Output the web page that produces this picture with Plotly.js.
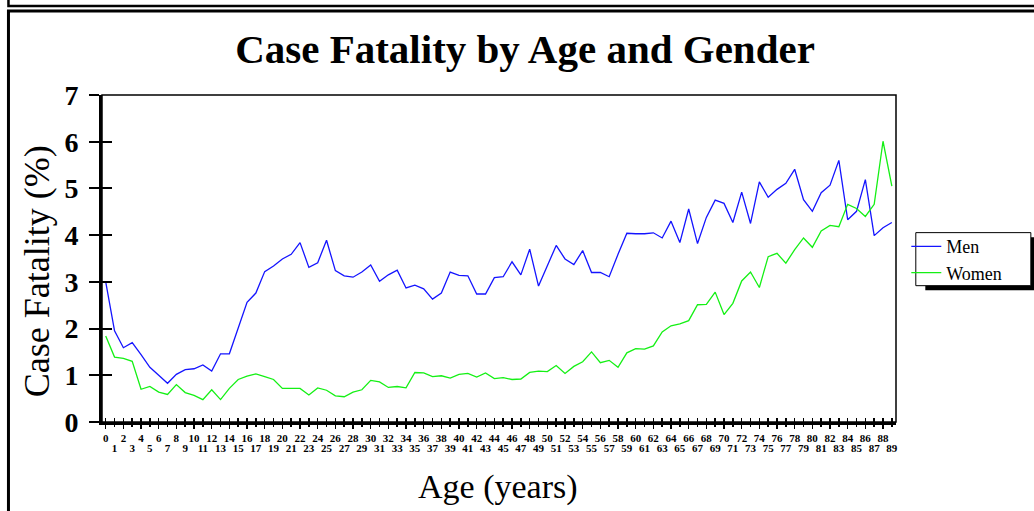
<!DOCTYPE html>
<html>
<head>
<meta charset="utf-8">
<script src="https://cdn.plot.ly/plotly-3.0.1.min.js"></script>
<style>html,body{margin:0;padding:0;background:#fff;}#chart{width:1034px;height:511px;}</style>
</head>
<body>
<div id="chart"></div>
<script>
var ages = [];
for (var i = 0; i <= 89; i++) ages.push(i);

var men = [3.00,1.95,1.59,1.70,1.44,1.17,1.00,0.83,1.02,1.12,
           1.14,1.22,1.09,1.46,1.46,2.01,2.56,2.76,3.22,3.34,
           3.49,3.59,3.84,3.31,3.41,3.89,3.24,3.13,3.10,3.21,
           3.36,3.01,3.15,3.25,2.87,2.93,2.85,2.63,2.76,3.21,
           3.14,3.13,2.74,2.74,3.09,3.11,3.43,3.15,3.70,2.91,
           3.34,3.78,3.49,3.37,3.67,3.20,3.20,3.11,3.59,4.04,
           4.03,4.03,4.05,3.94,4.30,3.84,4.56,3.82,4.38,4.75,
           4.68,4.27,4.92,4.25,5.14,4.81,4.98,5.11,5.41,4.76,
           4.51,4.91,5.07,5.60,4.33,4.51,5.19,3.99,4.16,4.27];

var women = [1.84,1.39,1.36,1.30,0.70,0.76,0.64,0.59,0.80,0.63,
             0.57,0.48,0.69,0.48,0.72,0.91,0.98,1.03,0.97,0.91,
             0.72,0.72,0.72,0.58,0.73,0.68,0.56,0.54,0.64,0.69,
             0.89,0.86,0.74,0.76,0.73,1.06,1.05,0.97,0.99,0.94,
             1.02,1.04,0.96,1.05,0.93,0.95,0.91,0.92,1.06,1.09,
             1.08,1.21,1.04,1.19,1.29,1.50,1.27,1.32,1.17,1.48,
             1.57,1.56,1.63,1.93,2.06,2.10,2.17,2.51,2.52,2.78,
             2.30,2.54,3.02,3.21,2.88,3.54,3.61,3.40,3.69,3.94,
             3.74,4.09,4.21,4.18,4.66,4.57,4.40,4.66,6.01,5.05];

var evenTicks = ages.filter(function(a){return a % 2 === 0;});
var oddTicks = ages.filter(function(a){return a % 2 === 1;});
var yTicks = [0,1,2,3,4,5,6,7];

var serif = "'Liberation Serif', 'Times New Roman', serif";
var xr = [-0.42, 89.47];

var traces = [
  {x: ages, y: men, name: 'Men', type: 'scatter', mode: 'lines',
   line: {color: 'rgb(20,20,255)', width: 1.3}, xaxis: 'x', yaxis: 'y'},
  {x: ages, y: women, name: 'Women', type: 'scatter', mode: 'lines',
   line: {color: 'rgb(20,240,20)', width: 1.3}, xaxis: 'x', yaxis: 'y'},
  // empty helper traces so the overlaid tick axes are drawn
  {x: [], y: [], type: 'scatter', mode: 'lines', xaxis: 'x2', yaxis: 'y', showlegend: false, hoverinfo: 'skip'},
  {x: [], y: [], type: 'scatter', mode: 'lines', xaxis: 'x3', yaxis: 'y', showlegend: false, hoverinfo: 'skip'},
  {x: [], y: [], type: 'scatter', mode: 'lines', xaxis: 'x', yaxis: 'y2', showlegend: false, hoverinfo: 'skip'}
];

var W = 1034, H = 511, L = 102, R = 895.7, T = 95, B = 421.7;
function px(x){ return (x - L) / (R - L); }
function py(y){ return (B - y) / (B - T); }

var tickFont = {family: serif, size: 11, color: '#000', weight: 'bold'};

var layout = {
  width: W, height: H,
  margin: {l: L, r: W - R, t: T, b: H - B, pad: 0},
  paper_bgcolor: '#fff', plot_bgcolor: '#fff',
  showlegend: true,
  title: {text: '<b>Case Fatality by Age and Gender</b>', font: {family: serif, size: 41, color: '#000'},
          xref: 'container', yref: 'container', x: 525 / W, y: 1 - 49 / H, xanchor: 'center', yanchor: 'middle'},
  xaxis: {range: xr, tickmode: 'array', tickvals: evenTicks, ticktext: evenTicks.map(String),
          ticks: 'outside', ticklen: 4, tickwidth: 1.5, tickcolor: '#000',
          showline: true, linewidth: 3, linecolor: '#000', showgrid: false, zeroline: false,
          tickangle: 0, tickfont: tickFont, fixedrange: true},
  xaxis2: {range: xr, overlaying: 'x', anchor: 'y', side: 'bottom', tickmode: 'array', tickvals: oddTicks,
           ticktext: oddTicks.map(String), ticks: 'outside', ticklen: 4, tickwidth: 1.5, tickcolor: '#000',
           showline: false, showgrid: false, zeroline: false, tickangle: 0, ticklabelstandoff: 12,
           tickfont: tickFont, fixedrange: true},
  xaxis3: {range: xr, overlaying: 'x', anchor: 'y', side: 'bottom', tickmode: 'array', tickvals: ages,
           ticks: 'inside', ticklen: 4, tickwidth: 1.5, tickcolor: '#000', showticklabels: false,
           showline: false, showgrid: false, zeroline: false, fixedrange: true},
  yaxis: {range: [0, 7], tickmode: 'array', tickvals: yTicks, ticktext: yTicks.map(String),
          ticks: 'outside', ticklen: 10, tickwidth: 2, tickcolor: '#000',
          showline: true, linewidth: 3, linecolor: '#000', showgrid: false, zeroline: false,
          ticklabelstandoff: 5,
          tickfont: {family: serif, size: 28, color: '#000', weight: 'bold'}, fixedrange: true},
  yaxis2: {range: [0, 7], overlaying: 'y', anchor: 'x', side: 'left', tickmode: 'array', tickvals: yTicks,
           ticks: 'inside', ticklen: 10, tickwidth: 2, tickcolor: '#000', showticklabels: false,
           showline: false, showgrid: false, zeroline: false, fixedrange: true},
  legend: {x: px(906), y: py(228), xanchor: 'left', yanchor: 'top', bgcolor: 'rgba(0,0,0,0)',
           borderwidth: 0, font: {family: serif, size: 18, color: '#000'},
           itemwidth: 30, tracegroupgap: 0},
  annotations: [
    {text: 'Case Fatality (%)', xref: 'paper', yref: 'paper', x: px(37), y: py(271), textangle: -90,
     showarrow: false, xanchor: 'center', yanchor: 'middle', font: {family: serif, size: 36, color: '#000'}},
    {text: 'Age (years)', xref: 'paper', yref: 'paper', x: px(498), y: py(487),
     showarrow: false, xanchor: 'center', yanchor: 'middle', font: {family: serif, size: 34, color: '#000'}}
  ],
  shapes: [
    {type: 'rect', xref: 'paper', yref: 'paper', x0: 0, x1: 1, y0: 0, y1: 1,
     line: {color: '#000', width: 1.5}, layer: 'below'},
    {type: 'rect', xref: 'paper', yref: 'paper', x0: px(8.5), x1: px(1050), y0: py(-20), y1: py(6),
     line: {color: '#000', width: 2.5}, fillcolor: 'rgba(0,0,0,0)'},
    {type: 'rect', xref: 'paper', yref: 'paper', x0: px(8.5), x1: px(1050), y0: py(11), y1: py(530),
     line: {color: '#000', width: 3}, fillcolor: 'rgba(0,0,0,0)'},
    {type: 'rect', xref: 'paper', yref: 'paper', x0: px(925), x1: px(1045), y0: py(237), y1: py(290),
     line: {width: 0}, fillcolor: '#000'},
    {type: 'rect', xref: 'paper', yref: 'paper', x0: px(915.5), x1: px(1030.5), y0: py(232.5), y1: py(285.5),
     line: {color: '#000', width: 1}, fillcolor: '#fff'}
  ]
};

Plotly.newPlot('chart', traces, layout, {displayModeBar: false, staticPlot: true});
</script>
</body>
</html>
